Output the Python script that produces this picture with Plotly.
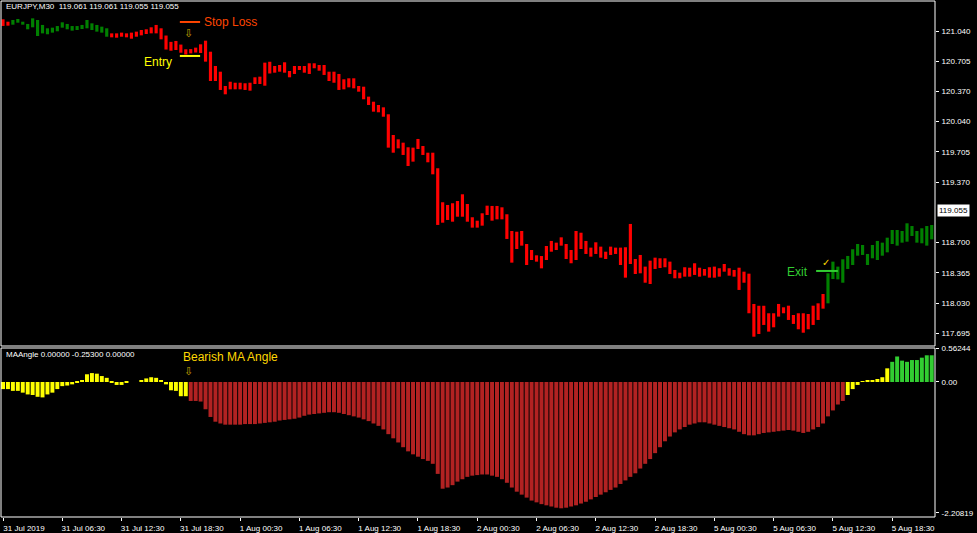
import plotly.graph_objects as go

# ---------------- data ----------------
ha_open = [121.170, 121.143, 121.110, 121.132, 121.110, 121.059, 121.081, 120.985, 121.014, 121.004,
           121.022, 121.037, 121.077, 121.059, 121.044, 121.051, 121.062, 121.070, 121.051, 121.033,
           121.022, 120.977, 121.014, 121.014, 121.022, 121.014, 121.022, 121.033, 121.051, 121.059,
           121.081, 121.107, 121.070, 120.990, 120.920, 120.930, 120.890, 120.838, 120.840, 120.856,
           120.893, 120.933, 120.811, 120.653, 120.590, 120.432, 120.479, 120.468, 120.468, 120.462,
           120.468, 120.528, 120.535, 120.690, 120.700, 120.653, 120.664, 120.694, 120.598, 120.653,
           120.653, 120.653, 120.683, 120.683, 120.664, 120.664, 120.590, 120.590, 120.565, 120.506,
           120.517, 120.517, 120.432, 120.424, 120.314, 120.258, 120.222, 120.196, 120.119, 119.890,
           119.842, 119.805, 119.754, 119.750, 119.846, 119.768, 119.694, 119.694, 119.522, 119.146,
           119.116, 119.135, 119.160, 119.234, 119.127, 118.980, 118.942, 119.024, 119.108, 119.105,
           119.105, 119.090, 119.013, 118.828, 118.820, 118.828, 118.684, 118.618, 118.559, 118.551,
           118.662, 118.718, 118.699, 118.758, 118.684, 118.618, 118.828, 118.809, 118.718, 118.644,
           118.703, 118.655, 118.599, 118.655, 118.644, 118.644, 118.648, 118.906, 118.518, 118.563,
           118.434, 118.500, 118.533, 118.526, 118.526, 118.489, 118.397, 118.367, 118.427, 118.422,
           118.471, 118.422, 118.408, 118.427, 118.434, 118.416, 118.463, 118.416, 118.397, 118.422,
           118.378, 118.356, 118.021, 118.001, 118.001, 117.918, 117.918, 118.021, 117.984, 118.002,
           117.899, 117.918, 117.918, 117.910, 118.002, 118.028, 118.131, 118.028, 118.297, 118.293,
           118.256, 118.408, 118.452, 118.555, 118.563, 118.452, 118.526, 118.507, 118.555, 118.592,
           118.684, 118.666, 118.699, 118.710, 118.773, 118.699, 118.692, 118.666, 118.736]

ha_close = [121.096, 121.099, 121.162, 121.173, 121.143, 121.118, 121.180, 121.162, 121.107, 121.070,
            121.077, 121.095, 121.136, 121.118, 121.095, 121.095, 121.107, 121.162, 121.125, 121.107,
            121.088, 121.070, 120.970, 120.966, 120.977, 120.970, 120.955, 120.977, 120.992, 121.007,
            121.014, 121.014, 120.948, 120.835, 120.822, 120.830, 120.800, 120.780, 120.793, 120.802,
            120.797, 120.701, 120.487, 120.487, 120.388, 120.340, 120.395, 120.395, 120.395, 120.388,
            120.380, 120.454, 120.454, 120.435, 120.570, 120.579, 120.590, 120.579, 120.528, 120.565,
            120.609, 120.579, 120.565, 120.628, 120.601, 120.554, 120.487, 120.468, 120.388, 120.395,
            120.417, 120.406, 120.369, 120.285, 120.222, 120.148, 120.141, 120.092, 119.750, 119.694,
            119.742, 119.669, 119.547, 119.595, 119.735, 119.669, 119.588, 119.455, 118.895, 118.920,
            118.950, 118.931, 118.986, 118.986, 118.931, 118.865, 118.865, 118.887, 119.005, 118.942,
            118.957, 118.957, 118.740, 118.478, 118.629, 118.666, 118.452, 118.507, 118.489, 118.415,
            118.507, 118.599, 118.618, 118.666, 118.518, 118.471, 118.507, 118.629, 118.574, 118.544,
            118.574, 118.533, 118.518, 118.563, 118.574, 118.452, 118.312, 118.463, 118.352, 118.360,
            118.256, 118.242, 118.408, 118.419, 118.427, 118.352, 118.305, 118.305, 118.323, 118.323,
            118.342, 118.323, 118.334, 118.312, 118.312, 118.323, 118.378, 118.334, 118.323, 118.176,
            118.256, 117.918, 117.659, 117.689, 117.789, 117.715, 117.763, 117.881, 117.918, 117.844,
            117.800, 117.741, 117.703, 117.741, 117.789, 117.844, 117.969, 118.360, 118.489, 118.434,
            118.515, 118.552, 118.626, 118.684, 118.673, 118.574, 118.673, 118.718, 118.699, 118.754,
            118.839, 118.839, 118.828, 118.913, 118.883, 118.828, 118.858, 118.883, 118.894]

ma_angle = [-0.12, -0.12, -0.15, -0.15, -0.18, -0.21, -0.22, -0.25, -0.26, -0.21,
            -0.18, -0.12, -0.07, -0.06, -0.04, -0.01, 0.03, 0.13, 0.15, 0.14,
            0.10, 0.07, -0.01, -0.05, -0.05, -0.01, 0.0, 0.0, 0.02, 0.06,
            0.08, 0.07, 0.03, -0.04, -0.14, -0.15, -0.24, -0.24, -0.32, -0.32,
            -0.33, -0.46, -0.59, -0.67, -0.70, -0.72, -0.72, -0.72, -0.72, -0.71,
            -0.71, -0.71, -0.70, -0.69, -0.68, -0.67, -0.65, -0.64, -0.63, -0.62,
            -0.60, -0.57, -0.55, -0.54, -0.53, -0.52, -0.51, -0.51, -0.52, -0.54,
            -0.56, -0.58, -0.60, -0.63, -0.66, -0.70, -0.74, -0.80, -0.88, -0.95,
            -1.02, -1.10, -1.17, -1.22, -1.26, -1.30, -1.33, -1.38, -1.55, -1.80,
            -1.78, -1.74, -1.68, -1.64, -1.60, -1.58, -1.57, -1.56, -1.56, -1.58,
            -1.60, -1.64, -1.70, -1.78, -1.85, -1.90, -1.95, -2.00, -2.03, -2.06,
            -2.08, -2.10, -2.12, -2.13, -2.12, -2.10, -2.08, -2.05, -2.02, -1.98,
            -1.94, -1.90, -1.86, -1.82, -1.78, -1.72, -1.66, -1.60, -1.54, -1.46,
            -1.38, -1.30, -1.20, -1.10, -1.00, -0.92, -0.85, -0.80, -0.76, -0.72,
            -0.70, -0.68, -0.68, -0.70, -0.72, -0.74, -0.76, -0.78, -0.80, -0.84,
            -0.88, -0.90, -0.90, -0.88, -0.86, -0.85, -0.84, -0.83, -0.82, -0.81,
            -0.82, -0.84, -0.86, -0.84, -0.80, -0.76, -0.70, -0.58, -0.48, -0.38,
            -0.32, -0.22, -0.12, -0.05, 0.01, 0.02, 0.03, 0.05, 0.08, 0.23,
            0.34, 0.43, 0.36, 0.34, 0.37, 0.37, 0.41, 0.45, 0.45]

time_labels = ["31 Jul 2019", "31 Jul 06:30", "31 Jul 12:30", "31 Jul 18:30",
               "1 Aug 00:30", "1 Aug 06:30", "1 Aug 12:30", "1 Aug 18:30",
               "2 Aug 00:30", "2 Aug 06:30", "2 Aug 12:30", "2 Aug 18:30",
               "5 Aug 00:30", "5 Aug 06:30", "5 Aug 12:30", "5 Aug 18:30"]
time_label_bars = [0, 12, 24, 36, 48, 60, 72, 84, 96, 108, 120, 132, 144, 156, 168, 180]

price_ticks = [121.040, 120.705, 120.370, 120.040, 119.705, 119.370, 118.700, 118.365, 118.030, 117.695]
ind_ticks = [0.56244, 0.0, -2.20819]
ind_tick_text = ["0.56244", "0.00", "-2.20819"]

current_price = 119.055
stop_loss_price = 121.140
entry_price = 120.764
exit_price = 118.386
angle_threshold = 0.29

# ---------------- figure ----------------
W, H = 977, 533
ML, MR, MT, MB = 0, 42, 0, 16
PW, PH = W - ML - MR, H - MT - MB

def py(pix):  # paper y from pixel row
    return (PH - pix) / PH

def px(pix):
    return pix / PW

bars = list(range(len(ha_open)))
bar_base = [min(o, c) for o, c in zip(ha_open, ha_close)]
bar_h = [max(abs(c - o), 0.006) for o, c in zip(ha_open, ha_close)]
bar_col = ["#008000" if c >= o else "#FF0000" for o, c in zip(ha_open, ha_close)]

ind_col = []
for v in ma_angle:
    if v > angle_threshold:
        ind_col.append("#32CD32")
    elif v < -angle_threshold:
        ind_col.append("#B22222")
    else:
        ind_col.append("#FFFF00")

fig = go.Figure()
fig.add_trace(go.Bar(x=bars, y=bar_h, base=bar_base, width=0.64,
                     marker=dict(color=bar_col, line=dict(width=0)),
                     xaxis="x", yaxis="y", hoverinfo="skip"))
fig.add_trace(go.Bar(x=bars, y=ma_angle, width=0.8,
                     marker=dict(color=ind_col, line=dict(width=0)),
                     xaxis="x", yaxis="y2", hoverinfo="skip"))

font8 = dict(family="Liberation Sans, Arial, sans-serif", size=8, color="#FFFFFF")
font12 = "Liberation Sans, Arial, sans-serif"

x_lo = -3 / 4.94
x_hi = (PW - 3) / 4.94

fig.update_layout(
    width=W, height=H,
    margin=dict(l=ML, r=MR, t=MT, b=MB, pad=0, autoexpand=False),
    paper_bgcolor="#000000", plot_bgcolor="#000000",
    showlegend=False, barmode="overlay",
    xaxis=dict(range=[x_lo, x_hi], anchor="y2", showgrid=False, zeroline=False,
               tickvals=time_label_bars, ticktext=time_labels, ticks="outside",
               ticklen=3, tickcolor="#FFFFFF", tickfont=font8, ticklabelshift=21,
               ticklabelstandoff=0, showline=False, automargin=False),
    yaxis=dict(domain=[py(346), 1.0], range=[117.556, 121.383], side="right",
               anchor="x", showgrid=False, zeroline=False, tickvals=price_ticks,
               ticktext=[f"{t:.3f}" for t in price_ticks], ticks="outside", ticklen=3,
               tickcolor="#FFFFFF", tickfont=font8, ticklabelstandoff=1, automargin=False),
    yaxis2=dict(domain=[0, py(348)], range=[-2.277, 0.573], side="right",
                anchor="x", showgrid=False, zeroline=False, tickvals=ind_ticks,
                ticktext=ind_tick_text, ticks="outside", ticklen=3,
                tickcolor="#FFFFFF", tickfont=font8, ticklabelstandoff=1, automargin=False),
)

shapes = []
# pane frames
shapes.append(dict(type="rect", xref="paper", yref="paper", x0=px(1), x1=1.0,
                   y0=py(346), y1=py(1), line=dict(color="#FFFFFF", width=1)))
shapes.append(dict(type="rect", xref="paper", yref="paper", x0=px(1), x1=1.0,
                   y0=0.0, y1=py(348), line=dict(color="#FFFFFF", width=1)))
# trade lines
shapes.append(dict(type="line", xref="x", yref="y", x0=35.8, x1=39.9,
                   y0=stop_loss_price, y1=stop_loss_price, line=dict(color="#FF4500", width=2)))
shapes.append(dict(type="line", xref="x", yref="y", x0=35.8, x1=39.9,
                   y0=entry_price, y1=entry_price, line=dict(color="#FFFF00", width=2)))
shapes.append(dict(type="line", xref="x", yref="y", x0=164.6, x1=169.0,
                   y0=exit_price, y1=exit_price, line=dict(color="#32CD32", width=2)))
fig.update_layout(shapes=shapes)

ann = []
ann.append(dict(xref="paper", yref="paper", x=px(4), y=py(7), xanchor="left", yanchor="middle",
                text="EURJPY,M30  119.061 119.061 119.055 119.055", showarrow=False, font=font8))
ann.append(dict(xref="paper", yref="paper", x=px(4), y=py(354), xanchor="left", yanchor="middle",
                text="MAAngle 0.00000 -0.25300 0.00000", showarrow=False, font=font8))
ann.append(dict(xref="paper", yref="paper", x=px(181), y=py(357), xanchor="left", yanchor="middle",
                text="Bearish MA Angle", showarrow=False,
                font=dict(family=font12, size=12, color="#FFD700")))
ann.append(dict(xref="x", yref="y2", x=37.5, y=0.17, xanchor="center", yanchor="middle",
                text="⇩", showarrow=False, font=dict(family="DejaVu Sans", size=11, color="#C8A000")))
ann.append(dict(xref="x", yref="y", x=40.3, y=stop_loss_price, xanchor="left", yanchor="middle",
                text="Stop Loss", showarrow=False, font=dict(family=font12, size=12, color="#FF4500")))
ann.append(dict(xref="x", yref="y", x=37.5, y=121.018, xanchor="center", yanchor="middle",
                text="⇩", showarrow=False, font=dict(family="DejaVu Sans", size=11, color="#C8A000")))
ann.append(dict(xref="x", yref="y", x=34.6, y=120.697, xanchor="right", yanchor="middle",
                text="Entry", showarrow=False, font=dict(family=font12, size=12, color="#FFFF00")))
ann.append(dict(xref="x", yref="y", x=163.4, y=118.375, xanchor="right", yanchor="middle",
                text="Exit", showarrow=False, font=dict(family=font12, size=12, color="#32CD32")))
ann.append(dict(xref="x", yref="y", x=166.6, y=118.485, xanchor="center", yanchor="middle",
                text="✓", showarrow=False, font=dict(family="DejaVu Sans", size=10, color="#FFD700")))
ann.append(dict(xref="paper", yref="y", x=px(937), y=current_price, xanchor="left", yanchor="middle",
                text=f"{current_price:.3f}", showarrow=False, bgcolor="#FFFFFF", borderpad=1,
                font=dict(family="Liberation Sans, Arial, sans-serif", size=8, color="#000000")))
fig.update_layout(annotations=ann)

fig.write_html("out.html", config={"displayModeBar": False},
               post_script="document.body.style.margin='0';document.body.style.overflow='hidden';")
